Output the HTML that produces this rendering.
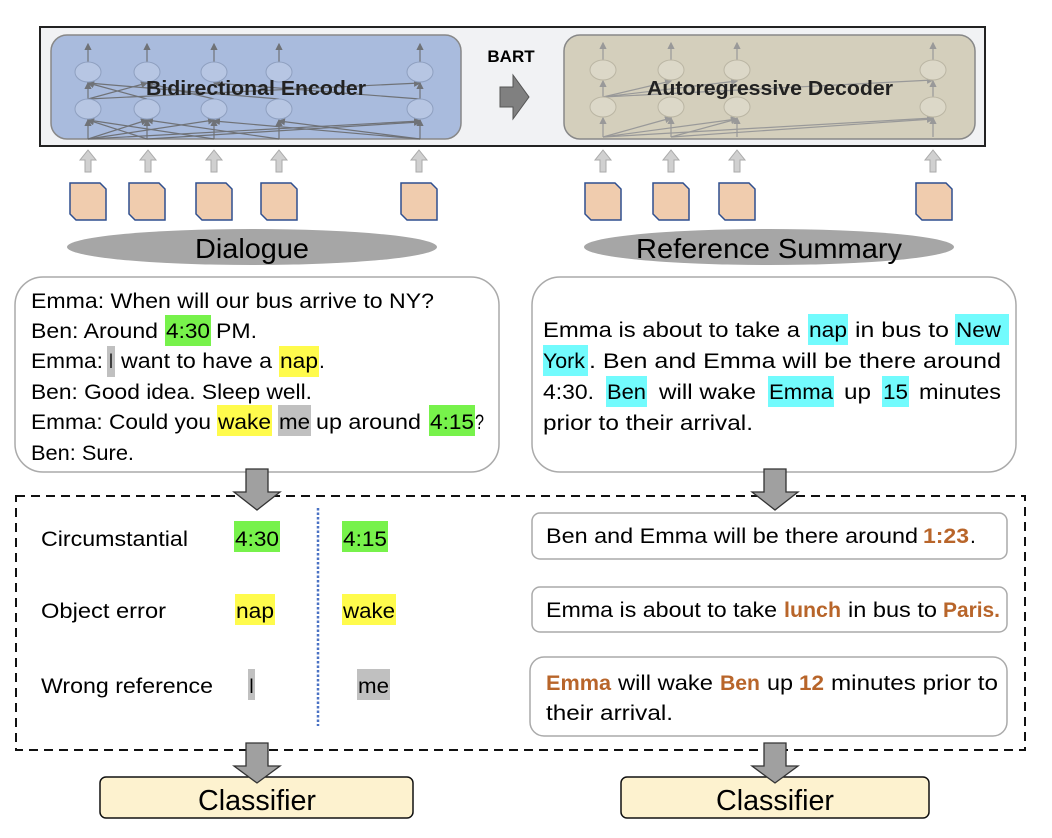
<!DOCTYPE html>
<html><head><meta charset="utf-8"><style>
html,body{margin:0;padding:0;background:#fff;}
svg{display:block;}
text{font-family:"Liberation Sans",sans-serif;fill:#000;}
.o{fill:#b8652a;font-weight:bold;}
</style></head><body>
<svg width="1052" height="838" viewBox="0 0 1052 838" xmlns="http://www.w3.org/2000/svg">
<defs>
<marker id="ah" markerWidth="6" markerHeight="6" refX="5" refY="3" orient="auto"><path d="M0,0 L6,3 L0,6 z" fill="#666"/></marker>
<marker id="ah2" markerWidth="6" markerHeight="6" refX="5" refY="3" orient="auto"><path d="M0,0 L6,3 L0,6 z" fill="#999"/></marker>
</defs>
<rect x="40" y="27" width="945" height="119" fill="#f1f2f4" stroke="#222" stroke-width="2"/>
<rect x="51" y="35" width="410" height="104" rx="16" fill="#a9bbdd" stroke="#888" stroke-width="1.5"/>
<rect x="564" y="35" width="411" height="104" rx="16" fill="#d4cfbc" stroke="#888" stroke-width="1.5"/>
<text x="511" y="62" font-size="17" font-weight="bold" text-anchor="middle">BART</text>
<path d="M500,87 L513,87 L513,75 L529,97 L513,119 L513,107 L500,107 z" fill="#808080" stroke="#555"/>
<g stroke="#666" stroke-width="1.2" fill="none" opacity="0.85" marker-end="url(#ah)">
<line x1="88" y1="62" x2="88" y2="44"/><line x1="147" y1="62" x2="147" y2="44"/><line x1="214" y1="62" x2="214" y2="44"/><line x1="279" y1="62" x2="279" y2="44"/><line x1="420" y1="62" x2="420" y2="44"/>
<line x1="88" y1="139" x2="88" y2="120"/><line x1="147" y1="139" x2="147" y2="120"/><line x1="214" y1="139" x2="214" y2="120"/><line x1="279" y1="139" x2="279" y2="120"/><line x1="420" y1="139" x2="420" y2="120"/>
<line x1="88" y1="99" x2="88" y2="83"/><line x1="420" y1="99" x2="420" y2="83"/>
<line x1="88" y1="99" x2="147" y2="83"/><line x1="147" y1="99" x2="88" y2="83"/><line x1="214" y1="99" x2="147" y2="83"/><line x1="88" y1="99" x2="420" y2="83"/><line x1="279" y1="99" x2="88" y2="83"/><line x1="420" y1="99" x2="214" y2="83"/>
<line x1="88" y1="139" x2="147" y2="120"/><line x1="147" y1="139" x2="88" y2="120"/><line x1="214" y1="139" x2="88" y2="120"/><line x1="88" y1="139" x2="420" y2="121"/><line x1="279" y1="139" x2="147" y2="120"/><line x1="420" y1="139" x2="279" y2="121"/><line x1="88" y1="139" x2="214" y2="120"/><line x1="147" y1="139" x2="420" y2="122"/><line x1="420" y1="139" x2="214" y2="121"/>
</g>
<g fill="#b7c6e3" stroke="#8fa0c0" stroke-width="1">
<ellipse cx="88" cy="72" rx="13" ry="10"/><ellipse cx="147" cy="72" rx="13" ry="10"/><ellipse cx="214" cy="72" rx="13" ry="10"/><ellipse cx="279" cy="72" rx="13" ry="10"/><ellipse cx="420" cy="72" rx="13" ry="10"/>
<ellipse cx="88" cy="109" rx="13" ry="10"/><ellipse cx="147" cy="109" rx="13" ry="10"/><ellipse cx="214" cy="109" rx="13" ry="10"/><ellipse cx="279" cy="109" rx="13" ry="10"/><ellipse cx="420" cy="109" rx="13" ry="10"/>
</g>
<text x="146" y="95" font-size="20" font-weight="bold" textLength="220" lengthAdjust="spacingAndGlyphs" style="fill:#222">Bidirectional Encoder</text>
<g stroke="#999" stroke-width="1.2" fill="none" marker-end="url(#ah2)">
<line x1="603" y1="60" x2="603" y2="43"/><line x1="671" y1="60" x2="671" y2="43"/><line x1="737" y1="60" x2="737" y2="43"/><line x1="933" y1="60" x2="933" y2="43"/>
<line x1="603" y1="97" x2="603" y2="81"/><line x1="933" y1="97" x2="933" y2="81"/>
<line x1="603" y1="137" x2="603" y2="118"/><line x1="671" y1="137" x2="671" y2="118"/><line x1="737" y1="137" x2="737" y2="118"/><line x1="933" y1="137" x2="933" y2="118"/>
<line x1="603" y1="97" x2="671" y2="81"/><line x1="603" y1="97" x2="737" y2="81"/><line x1="603" y1="97" x2="933" y2="80"/>
<line x1="603" y1="137" x2="671" y2="118"/><line x1="603" y1="137" x2="737" y2="119"/><line x1="603" y1="137" x2="933" y2="118"/><line x1="671" y1="137" x2="737" y2="119"/><line x1="671" y1="137" x2="933" y2="119"/>
</g>
<g fill="#dcd8c8" stroke="#bbb6a4" stroke-width="1">
<ellipse cx="603" cy="70" rx="13" ry="10"/><ellipse cx="671" cy="70" rx="13" ry="10"/><ellipse cx="737" cy="70" rx="13" ry="10"/><ellipse cx="933" cy="70" rx="13" ry="10"/>
<ellipse cx="603" cy="107" rx="13" ry="10"/><ellipse cx="671" cy="107" rx="13" ry="10"/><ellipse cx="737" cy="107" rx="13" ry="10"/><ellipse cx="933" cy="107" rx="13" ry="10"/>
</g>
<text x="647" y="95" font-size="20" font-weight="bold" textLength="246" lengthAdjust="spacingAndGlyphs" style="fill:#222">Autoregressive Decoder</text>
<g fill="#d0d0d0" stroke="#aaa" stroke-width="1">
<path d="M-3,172 L3,172 L3,160 L8,160 L0,150 L-8,160 L-3,160 z" transform="translate(88,0)"/>
<path d="M-3,172 L3,172 L3,160 L8,160 L0,150 L-8,160 L-3,160 z" transform="translate(148,0)"/>
<path d="M-3,172 L3,172 L3,160 L8,160 L0,150 L-8,160 L-3,160 z" transform="translate(214,0)"/>
<path d="M-3,172 L3,172 L3,160 L8,160 L0,150 L-8,160 L-3,160 z" transform="translate(279,0)"/>
<path d="M-3,172 L3,172 L3,160 L8,160 L0,150 L-8,160 L-3,160 z" transform="translate(419,0)"/>
<path d="M-3,172 L3,172 L3,160 L8,160 L0,150 L-8,160 L-3,160 z" transform="translate(603,0)"/>
<path d="M-3,172 L3,172 L3,160 L8,160 L0,150 L-8,160 L-3,160 z" transform="translate(671,0)"/>
<path d="M-3,172 L3,172 L3,160 L8,160 L0,150 L-8,160 L-3,160 z" transform="translate(737,0)"/>
<path d="M-3,172 L3,172 L3,160 L8,160 L0,150 L-8,160 L-3,160 z" transform="translate(933,0)"/>
</g>
<g fill="#f0ccae" stroke="#2f4f8f" stroke-width="1.5">
<path d="M0,0 L30,0 L36,6 L36,37 L6,37 L0,31 z" transform="translate(70,183)"/>
<path d="M0,0 L30,0 L36,6 L36,37 L6,37 L0,31 z" transform="translate(129,183)"/>
<path d="M0,0 L30,0 L36,6 L36,37 L6,37 L0,31 z" transform="translate(196,183)"/>
<path d="M0,0 L30,0 L36,6 L36,37 L6,37 L0,31 z" transform="translate(261,183)"/>
<path d="M0,0 L30,0 L36,6 L36,37 L6,37 L0,31 z" transform="translate(401,183)"/>
<path d="M0,0 L30,0 L36,6 L36,37 L6,37 L0,31 z" transform="translate(585,183)"/>
<path d="M0,0 L30,0 L36,6 L36,37 L6,37 L0,31 z" transform="translate(653,183)"/>
<path d="M0,0 L30,0 L36,6 L36,37 L6,37 L0,31 z" transform="translate(719,183)"/>
<path d="M0,0 L30,0 L36,6 L36,37 L6,37 L0,31 z" transform="translate(916,183)"/>
</g>
<ellipse cx="252" cy="247" rx="185" ry="18" fill="#a6a6a6"/>
<ellipse cx="769" cy="247" rx="185" ry="18" fill="#a6a6a6"/>
<text x="195" y="258" font-size="28" textLength="114" lengthAdjust="spacingAndGlyphs">Dialogue</text>
<text x="636" y="258" font-size="28" textLength="266" lengthAdjust="spacingAndGlyphs">Reference Summary</text>
<rect x="15" y="277" width="484" height="195" rx="28" fill="#fff" stroke="#aaa" stroke-width="1.5"/>
<rect x="532" y="277" width="484" height="195" rx="28" fill="#fff" stroke="#aaa" stroke-width="1.5"/>
<rect x="165" y="315" width="46" height="31" fill="#77f24b"/>
<rect x="107" y="346" width="8" height="31" fill="#c0c0c0"/>
<rect x="279" y="346" width="40" height="31" fill="#fffb4c"/>
<rect x="217" y="405" width="55" height="31" fill="#fffb4c"/>
<rect x="278" y="405" width="33" height="31" fill="#c0c0c0"/>
<rect x="429" y="405" width="46" height="31" fill="#77f24b"/>
<g font-size="21">
<text x="31" y="308" textLength="403" lengthAdjust="spacingAndGlyphs">Emma: When will our bus arrive to NY?</text>
<text x="31" y="338" textLength="127" lengthAdjust="spacingAndGlyphs">Ben: Around</text>
<text x="166" y="338" textLength="44" lengthAdjust="spacingAndGlyphs">4:30</text>
<text x="216" y="338" textLength="41" lengthAdjust="spacingAndGlyphs">PM.</text>
<text x="31" y="368" textLength="72" lengthAdjust="spacingAndGlyphs">Emma:</text>
<text x="109" y="368" textLength="4" lengthAdjust="spacingAndGlyphs">I</text>
<text x="121" y="368" textLength="151" lengthAdjust="spacingAndGlyphs">want to have a</text>
<text x="280" y="368" textLength="38" lengthAdjust="spacingAndGlyphs">nap</text>
<text x="319" y="368">.</text>
<text x="31" y="399" textLength="281" lengthAdjust="spacingAndGlyphs">Ben: Good idea. Sleep well.</text>
<text x="31" y="429" textLength="180" lengthAdjust="spacingAndGlyphs">Emma: Could you</text>
<text x="218" y="429" textLength="53" lengthAdjust="spacingAndGlyphs">wake</text>
<text x="279" y="429" textLength="31" lengthAdjust="spacingAndGlyphs">me</text>
<text x="316" y="429" textLength="105" lengthAdjust="spacingAndGlyphs">up around</text>
<text x="430" y="429" textLength="44" lengthAdjust="spacingAndGlyphs">4:15</text>
<text x="475" y="429" textLength="9" lengthAdjust="spacingAndGlyphs">?</text>
<text x="31" y="460" textLength="103" lengthAdjust="spacingAndGlyphs">Ben: Sure.</text>
</g>
<rect x="808" y="314" width="40" height="31" fill="#72fbfd"/>
<rect x="955" y="314" width="54" height="31" fill="#72fbfd"/>
<rect x="543" y="345" width="45" height="31" fill="#72fbfd"/>
<rect x="606" y="376" width="41" height="31" fill="#72fbfd"/>
<rect x="768" y="376" width="66" height="31" fill="#72fbfd"/>
<rect x="882" y="376" width="27" height="31" fill="#72fbfd"/>
<g font-size="21">
<text x="543" y="337" textLength="257" lengthAdjust="spacingAndGlyphs">Emma is about to take a</text>
<text x="809" y="337" textLength="38" lengthAdjust="spacingAndGlyphs">nap</text>
<text x="855" y="337" textLength="94" lengthAdjust="spacingAndGlyphs">in bus to</text>
<text x="956" y="337" textLength="45" lengthAdjust="spacingAndGlyphs">New</text>
<text x="543" y="368" textLength="42" lengthAdjust="spacingAndGlyphs">York</text>
<text x="589" y="368" textLength="412" lengthAdjust="spacingAndGlyphs">. Ben and Emma will be there around</text>
<text x="543" y="399" textLength="51" lengthAdjust="spacingAndGlyphs">4:30.</text>
<text x="607" y="399" textLength="39" lengthAdjust="spacingAndGlyphs">Ben</text>
<text x="659" y="399" textLength="97" lengthAdjust="spacingAndGlyphs">will wake</text>
<text x="769" y="399" textLength="64" lengthAdjust="spacingAndGlyphs">Emma</text>
<text x="844" y="399" textLength="27" lengthAdjust="spacingAndGlyphs">up</text>
<text x="883" y="399" textLength="25" lengthAdjust="spacingAndGlyphs">15</text>
<text x="919" y="399" textLength="82" lengthAdjust="spacingAndGlyphs">minutes</text>
<text x="543" y="430" textLength="210" lengthAdjust="spacingAndGlyphs">prior to their arrival.</text>
</g>
<rect x="16" y="496" width="1009" height="254" fill="none" stroke="#111" stroke-width="2" stroke-dasharray="9,6"/>
<line x1="318" y1="508" x2="318" y2="726" stroke="#4a72c4" stroke-width="2.5" stroke-dasharray="2.5,2"/>
<g font-size="21">
<text x="41" y="546" textLength="147" lengthAdjust="spacingAndGlyphs">Circumstantial</text>
<text x="41" y="618" textLength="125" lengthAdjust="spacingAndGlyphs">Object error</text>
<text x="41" y="693" textLength="172" lengthAdjust="spacingAndGlyphs">Wrong reference</text>
</g>
<rect x="234" y="521" width="46" height="31" fill="#77f24b"/>
<rect x="342" y="521" width="46" height="31" fill="#77f24b"/>
<rect x="235" y="594" width="40" height="31" fill="#fffb4c"/>
<rect x="342" y="594" width="54" height="31" fill="#fffb4c"/>
<rect x="248" y="669" width="7" height="31" fill="#c0c0c0"/>
<rect x="357" y="669" width="33" height="31" fill="#c0c0c0"/>
<g font-size="21">
<text x="235" y="546" textLength="44" lengthAdjust="spacingAndGlyphs">4:30</text>
<text x="343" y="546" textLength="44" lengthAdjust="spacingAndGlyphs">4:15</text>
<text x="236" y="618" textLength="38" lengthAdjust="spacingAndGlyphs">nap</text>
<text x="343" y="618" textLength="52" lengthAdjust="spacingAndGlyphs">wake</text>
<text x="249" y="693" textLength="5" lengthAdjust="spacingAndGlyphs">I</text>
<text x="358" y="693" textLength="31" lengthAdjust="spacingAndGlyphs">me</text>
</g>
<rect x="532" y="513" width="475" height="46" rx="8" fill="#fff" stroke="#aaa" stroke-width="1.5"/>
<rect x="532" y="587" width="475" height="45" rx="8" fill="#fff" stroke="#aaa" stroke-width="1.5"/>
<rect x="530" y="657" width="477" height="79" rx="14" fill="#fff" stroke="#aaa" stroke-width="1.5"/>
<g font-size="21">
<text x="546" y="543" textLength="372" lengthAdjust="spacingAndGlyphs">Ben and Emma will be there around</text>
<text x="923" y="543" class="o" textLength="46" lengthAdjust="spacingAndGlyphs">1:23</text>
<text x="970" y="543">.</text>
<text x="546" y="617" textLength="231" lengthAdjust="spacingAndGlyphs">Emma is about to take</text>
<text x="784" y="617" class="o" textLength="57" lengthAdjust="spacingAndGlyphs">lunch</text>
<text x="848" y="617" textLength="89" lengthAdjust="spacingAndGlyphs">in bus to</text>
<text x="943" y="617" class="o" textLength="57" lengthAdjust="spacingAndGlyphs">Paris.</text>
<text x="546" y="690" class="o" textLength="65" lengthAdjust="spacingAndGlyphs">Emma</text>
<text x="618" y="690" textLength="95" lengthAdjust="spacingAndGlyphs">will wake</text>
<text x="720" y="690" class="o" textLength="40" lengthAdjust="spacingAndGlyphs">Ben</text>
<text x="767" y="690" textLength="26" lengthAdjust="spacingAndGlyphs">up</text>
<text x="799" y="690" class="o" textLength="25" lengthAdjust="spacingAndGlyphs">12</text>
<text x="831" y="690" textLength="167" lengthAdjust="spacingAndGlyphs">minutes prior to</text>
<text x="546" y="720" textLength="127" lengthAdjust="spacingAndGlyphs">their arrival.</text>
</g>
<g fill="#a0a0a0" stroke="#333" stroke-width="1.3">
<path d="M-11,0 L11,0 L11,23 L23,23 L0,41 L-23,23 L-11,23 z" transform="translate(257,469)"/>
<path d="M-11,0 L11,0 L11,23 L23,23 L0,41 L-23,23 L-11,23 z" transform="translate(775,469)"/>
</g>
<rect x="100" y="777" width="313" height="41" rx="6" fill="#fdf2cf" stroke="#111" stroke-width="1.5"/>
<rect x="621" y="777" width="308" height="41" rx="6" fill="#fdf2cf" stroke="#111" stroke-width="1.5"/>
<text x="198" y="810" font-size="29" textLength="118" lengthAdjust="spacingAndGlyphs">Classifier</text>
<text x="716" y="810" font-size="29" textLength="118" lengthAdjust="spacingAndGlyphs">Classifier</text>
<g fill="#a0a0a0" stroke="#333" stroke-width="1.3">
<path d="M-11,0 L11,0 L11,23 L23,23 L0,40 L-23,23 L-11,23 z" transform="translate(257,743)"/>
<path d="M-11,0 L11,0 L11,23 L23,23 L0,40 L-23,23 L-11,23 z" transform="translate(775,743)"/>
</g>
</svg>
</body></html>
